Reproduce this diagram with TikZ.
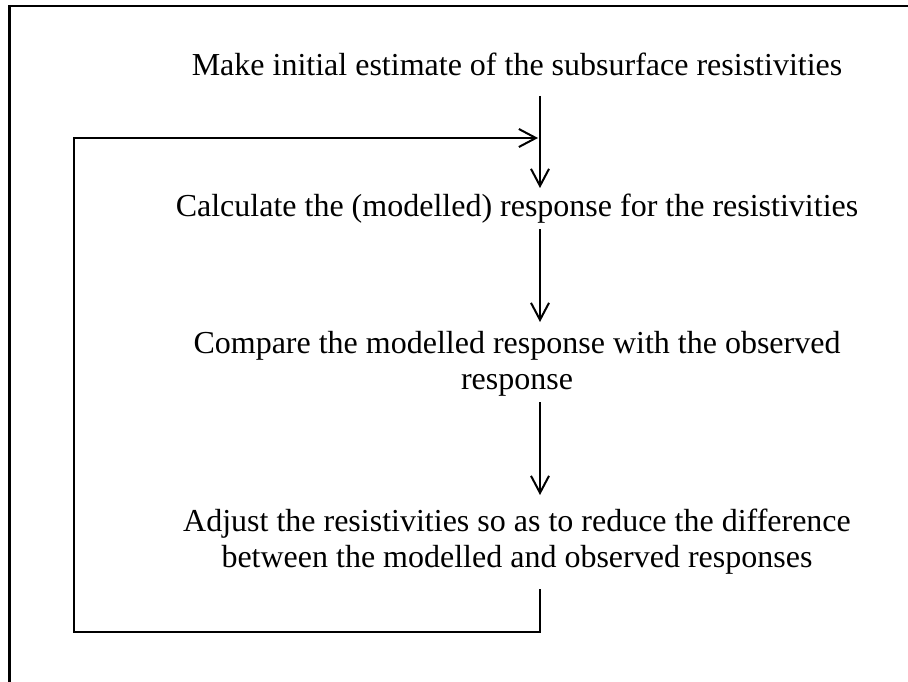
\documentclass[tikz,border=0pt]{standalone}
\usepackage{fontspec}
\setmainfont{Liberation Serif}
\usetikzlibrary{arrows.meta}
\tikzset{
  steptext/.style={anchor=base, inner sep=0pt, align=center, font=\fontsize{32}{36}\selectfont},
  flow/.style={line width=2pt, -{Straight Barb[length=17pt,width=18pt,line width=2pt]}},
  frame/.style={line width=2.5pt}
}
\begin{document}
\begin{tikzpicture}[x=1pt,y=-1pt]
\useasboundingbox (0,0) rectangle (908,682);
% partial frame
\coordinate (fr1) at (9.5,682);
\coordinate (fr2) at (9.5,6);
\coordinate (fr3) at (908,6);
\draw[frame] (fr1) -- (fr2) -- (fr3);
% text nodes (base = baseline of the last line)
\node[steptext] (n1) at (517,76) {Make initial estimate of the subsurface resistivities};
\node[steptext] (n2) at (517,216) {Calculate the (modelled) response for the resistivities};
\node[steptext] (n3) at (517,389) {Compare the modelled response with the observed\\response};
\node[steptext] (n4) at (517,567) {Adjust the resistivities so as to reduce the difference\\between the modelled and observed responses};
% arrow coordinates
\coordinate (a1s) at (540,96);
\coordinate (a1e) at (540,188);
\coordinate (a2s) at (540,229);
\coordinate (a2e) at (540,322);
\coordinate (a3s) at (540,402);
\coordinate (a3e) at (540,495);
\coordinate (ls) at (540,589);
\coordinate (lb) at (540,632);
\coordinate (ll) at (74,632);
\coordinate (lt) at (74,138);
\coordinate (le) at (538,138);
\draw[flow] (a1s) -- (a1e);
\draw[flow] (a2s) -- (a2e);
\draw[flow] (a3s) -- (a3e);
\draw[flow] (ls) -- (lb) -- (ll) -- (lt) -- (le);
\end{tikzpicture}
\end{document}
